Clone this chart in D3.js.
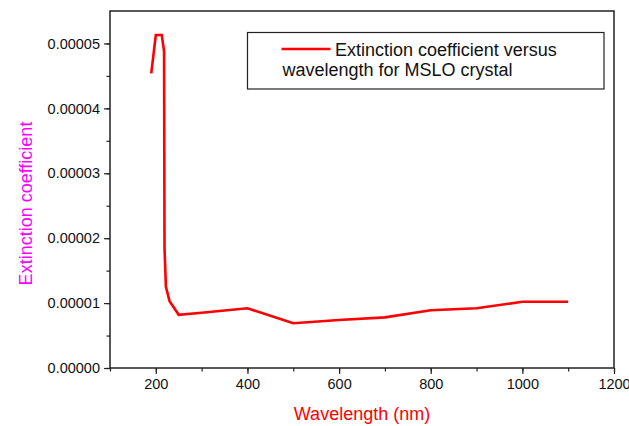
<!DOCTYPE html>
<html>
<head>
<meta charset="utf-8">
<script src="https://cdn.jsdelivr.net/npm/d3@7"></script>
<style>
  body { margin: 0; background: #fff; }
  text { font-family: Arial, "Liberation Sans", sans-serif; }
</style>
</head>
<body>
<div id="chart"></div>
<script>
// data
let wavelength = [190, 200, 213, 218, 219, 222, 230, 250, 300, 400, 500, 600, 700, 800, 900, 1000, 1100];
let extinction = [4.54e-5, 5.13e-5, 5.13e-5, 4.88e-5, 1.84e-5, 1.25e-5, 1.03e-5, 0.82e-5, 0.85e-5, 0.92e-5,
                  0.69e-5, 0.74e-5, 0.78e-5, 0.89e-5, 0.92e-5, 1.02e-5, 1.02e-5];
let xTicks = [200, 400, 600, 800, 1000, 1200];
let yTicks = [0, 0.00001, 0.00002, 0.00003, 0.00004, 0.00005];
let legendLines = ["Extinction coefficient versus", "wavelength for MSLO crystal"];

let width = 629, height = 426;
let margin = { left: 110, right: 15, top: 11, bottom: 58 };
let chart_width = width - margin.left - margin.right;
let chart_height = height - margin.top - margin.bottom;

let svg = d3.select("#chart").append("svg")
  .attr("width", width)
  .attr("height", height);

let g = svg.append("g")
  .attr("transform", `translate(${margin.left},${margin.top})`);

// scales
let x_scale = d3.scaleLinear().domain([100, 1200]).range([0, chart_width]);
let y_scale = d3.scaleLinear().domain([0, 0.000055]).range([chart_height, 0]);

// minor ticks first (shorter)
g.append("g")
  .attr("transform", `translate(0,${chart_height})`)
  .call(d3.axisBottom(x_scale).tickValues(d3.range(100, 1201, 100)).tickSize(3.5).tickFormat(""))
  .call(a => a.select(".domain").remove())
  .selectAll("line").attr("stroke", "#222").attr("stroke-width", 1.2);

g.append("g")
  .call(d3.axisLeft(y_scale).tickValues(d3.range(0, 11).map(i => i * 0.000005)).tickSize(3.5).tickFormat(""))
  .call(a => a.select(".domain").remove())
  .selectAll("line").attr("stroke", "#222").attr("stroke-width", 1.2);

// major ticks + labels
let xAxis = g.append("g")
  .attr("transform", `translate(0,${chart_height})`)
  .call(d3.axisBottom(x_scale).tickValues(xTicks).tickSize(6).tickPadding(5).tickFormat(d3.format("d")));
xAxis.select(".domain").remove();
xAxis.selectAll("line").attr("stroke", "#222").attr("stroke-width", 1.2);
xAxis.selectAll("text").attr("font-size", "14.5px").attr("fill", "#111")
  .style("font-family", "Arial, 'Liberation Sans', sans-serif");

let yAxis = g.append("g")
  .call(d3.axisLeft(y_scale).tickValues(yTicks).tickSize(6).tickPadding(4).tickFormat(d3.format(".5f")));
yAxis.select(".domain").remove();
yAxis.selectAll("line").attr("stroke", "#222").attr("stroke-width", 1.2);
yAxis.selectAll("text").attr("font-size", "14.5px").attr("fill", "#111")
  .style("font-family", "Arial, 'Liberation Sans', sans-serif");

// frame
g.append("rect")
  .attr("width", chart_width)
  .attr("height", chart_height)
  .attr("fill", "none")
  .attr("stroke", "#222")
  .attr("stroke-width", 1.5);

// the curve
let line = d3.line()
  .x((d, i) => x_scale(wavelength[i]))
  .y(d => y_scale(d));

g.append("path")
  .datum(extinction)
  .attr("fill", "none")
  .attr("stroke", "#ff0000")
  .attr("stroke-width", 2.6)
  .attr("stroke-linejoin", "miter")
  .attr("d", line);

// axis labels
g.append("text")
  .attr("x", chart_width / 2)
  .attr("y", chart_height + 52)
  .attr("text-anchor", "middle")
  .attr("font-size", "18px")
  .attr("fill", "#ff0000")
  .text("Wavelength (nm)");

g.append("text")
  .attr("transform", `translate(${32 - margin.left},${203.5 - margin.top}) rotate(-90)`)
  .attr("text-anchor", "middle")
  .attr("font-size", "18px")
  .attr("fill", "#ff00ff")
  .text("Extinction coefficient");

// legend
let legend = svg.append("g").attr("transform", "translate(247.5,32.5)");
legend.append("rect")
  .attr("width", 356.5)
  .attr("height", 56.5)
  .attr("fill", "#fff")
  .attr("stroke", "#222")
  .attr("stroke-width", 1.2);
legend.append("line")
  .attr("x1", 34).attr("x2", 83)
  .attr("y1", 16.5).attr("y2", 16.5)
  .attr("stroke", "#ff0000")
  .attr("stroke-width", 2.6);
legend.append("text")
  .attr("x", 87.5).attr("y", 23.5)
  .attr("font-size", "18px").attr("fill", "#111")
  .text(legendLines[0]);
legend.append("text")
  .attr("x", 35).attr("y", 43.5)
  .attr("font-size", "18px").attr("fill", "#111")
  .text(legendLines[1]);
</script>
</body>
</html>
